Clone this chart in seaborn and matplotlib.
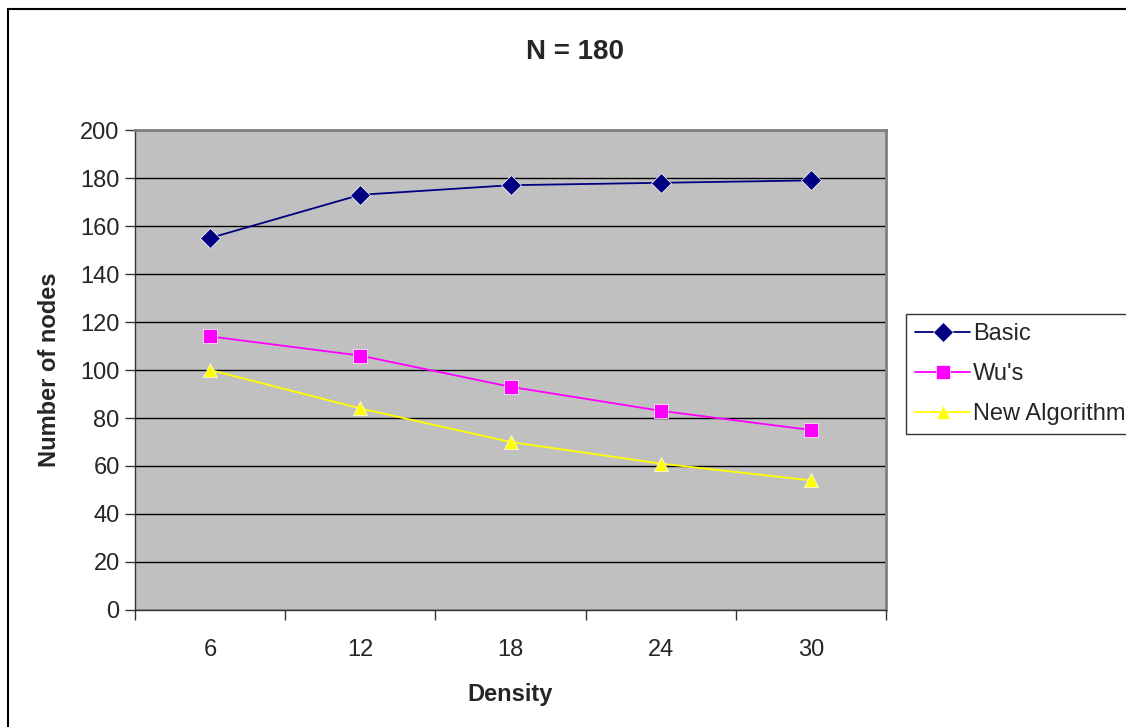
import matplotlib
matplotlib.use("Agg")
import matplotlib.pyplot as plt
import seaborn as sns
import pandas as pd
from matplotlib.patches import Rectangle
from matplotlib.ticker import FixedLocator

densities = ["6", "12", "18", "24", "30"]
basic = [155, 173, 177, 178, 179]
wus = [114, 106, 93, 83, 75]
new_alg = [100, 84, 70, 61, 54]
series_names = ["Basic", "Wu's", "New Algorithm"]
colors = ["#000080", "#FF00FF", "#FFFF00"]
markers = ["D", "s", "^"]
yticks = list(range(0, 201, 20))

rows = []
for name, vals in zip(series_names, [basic, wus, new_alg]):
    for d, v in zip(densities, vals):
        rows.append({"Density": d, "Nodes": v, "Series": name})
df = pd.DataFrame(rows)

sns.set_style("white")
plt.rcParams["font.family"] = ["Liberation Sans", "DejaVu Sans"]

fig = plt.figure(figsize=(11.26, 7.27), dpi=100)
ax = fig.add_axes([135/1126, (727-610)/727, (886-135)/1126, 480/727])

sns.lineplot(data=df, x="Density", y="Nodes", hue="Series", style="Series",
             hue_order=series_names, style_order=series_names,
             palette=colors, markers=markers, dashes=False,
             markersize=10, linewidth=1.3, markeredgewidth=0.5, ax=ax)

ax.set_facecolor("#C0C0C0")
ax.set_xlim(-0.5, 4.5)
ax.set_ylim(0, 200)
ax.set_yticks(yticks)
ax.yaxis.grid(True, color="black", linewidth=1)
ax.xaxis.grid(False)
ax.set_axisbelow(True)
for side in ["top", "right"]:
    ax.spines[side].set_color("#808080")
    ax.spines[side].set_linewidth(2)
for side in ["left", "bottom"]:
    ax.spines[side].set_color("#333333")
    ax.spines[side].set_linewidth(1)

ax.xaxis.set_minor_locator(FixedLocator([-0.5, 0.5, 1.5, 2.5, 3.5, 4.5]))
ax.tick_params(axis="x", which="major", length=0, pad=21, labelsize=17)
ax.tick_params(axis="x", which="minor", length=7, width=1, color="#333333", direction="out", bottom=True)
ax.tick_params(axis="y", which="major", length=7, width=1, color="#333333", direction="out", left=True, labelsize=17, pad=4)

ax.set_xlabel("Density", fontsize=17, fontweight="bold", labelpad=16)
ax.set_ylabel("Number of nodes", fontsize=17, fontweight="bold", labelpad=14)
fig.text(575/1126, 1 - 52/727, "N = 180", ha="center", va="center", fontsize=20, fontweight="bold")

leg = ax.legend(loc="upper left", bbox_to_anchor=(906/1126, 1 - 314/727),
                bbox_transform=fig.transFigure, fontsize=17, frameon=True,
                fancybox=False, borderpad=0.4, handlelength=2.3, labelspacing=0.75,
                handletextpad=0.15, borderaxespad=0)
leg.get_frame().set_edgecolor("black")
leg.get_frame().set_linewidth(1)

fig.patches.append(Rectangle((8/1126, -0.1), 1.2, 1 - 9/727 + 0.1, transform=fig.transFigure,
                             fill=False, edgecolor="black", linewidth=1.5))

fig.savefig("out.png", dpi=100, facecolor="white")
